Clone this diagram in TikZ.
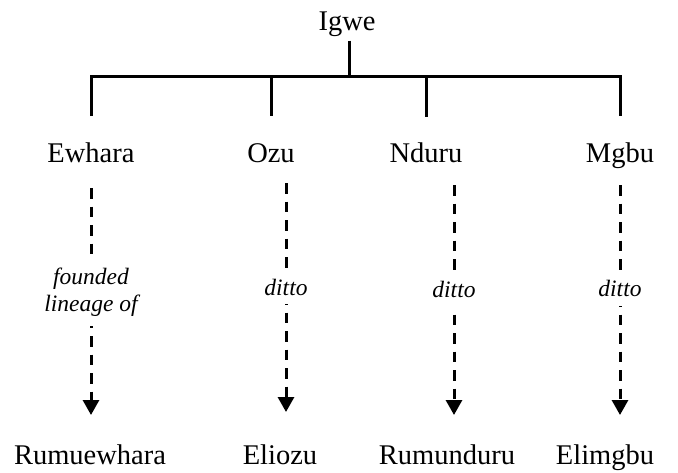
\documentclass[tikz,border=0pt]{standalone}
\usepackage{fontspec}
\setmainfont{Liberation Serif}
\usetikzlibrary{arrows.meta}

\begin{document}
\begin{tikzpicture}[x=1pt, y=-1pt, line width=3pt,
    clan/.style={anchor=base, inner sep=0pt, font=\fontsize{28.5}{34}\selectfont},
    descent/.style={dash pattern=on 10.5pt off 8pt, -{Triangle[length=15pt, width=16pt]}},
    remark/.style={fill=white, inner xsep=2pt, inner ysep=9pt, align=center, font=\fontsize{23.5}{27.5}\selectfont\itshape}]
    \useasboundingbox (0,0) rectangle (678,472);

    % Nodes
    \node[clan] (igwe) at (347,30) {Igwe};
    \node[clan] (ewhara) at (91,162) {Ewhara};
    \node[clan] (ozu) at (271,162) {Ozu};
    \node[clan] (nduru) at (426,162) {Nduru};
    \node[clan] (mgbu) at (620,162) {Mgbu};

    \node[clan] (rumuewhara) at (90,464) {Rumuewhara};
    \node[clan] (eliozu) at (280,464) {Eliozu};
    \node[clan] (rumunduru) at (447,464) {Rumunduru};
    \node[clan] (elimgbu) at (605,464) {Elimgbu};

    % Tree
    \coordinate (fork) at (349,76);
    \coordinate (ewhara-up) at (91,116);
    \coordinate (ozu-up) at (271,116);
    \coordinate (nduru-up) at (426,117);
    \coordinate (mgbu-up) at (620,116);
    \draw ([yshift=-3pt]igwe.south -| fork) -- (fork);
    \draw (ewhara-up) |- (fork) -| (mgbu-up);
    \draw (ozu-up |- fork) -- (ozu-up);
    \draw (nduru-up |- fork) -- (nduru-up);

    % Arrows
    \coordinate (ewhara-from) at (91,188);
    \coordinate (ewhara-to) at (91,415);
    \coordinate (ozu-from) at (286,183);
    \coordinate (ozu-to) at (286,412);
    \coordinate (nduru-from) at (454,185);
    \coordinate (nduru-to) at (454,415);
    \coordinate (mgbu-from) at (620,185);
    \coordinate (mgbu-to) at (620,415);
    \draw[descent] (ewhara-from) -- node[remark, pos=0.46] {founded\\lineage of} (ewhara-to);
    \draw[descent] (ozu-from) -- node[remark, pos=0.455] {ditto} (ozu-to);
    \draw[descent] (nduru-from) -- node[remark, pos=0.455] {ditto} (nduru-to);
    \draw[descent] (mgbu-from) -- node[remark, pos=0.45] {ditto} (mgbu-to);
\end{tikzpicture}
\end{document}
